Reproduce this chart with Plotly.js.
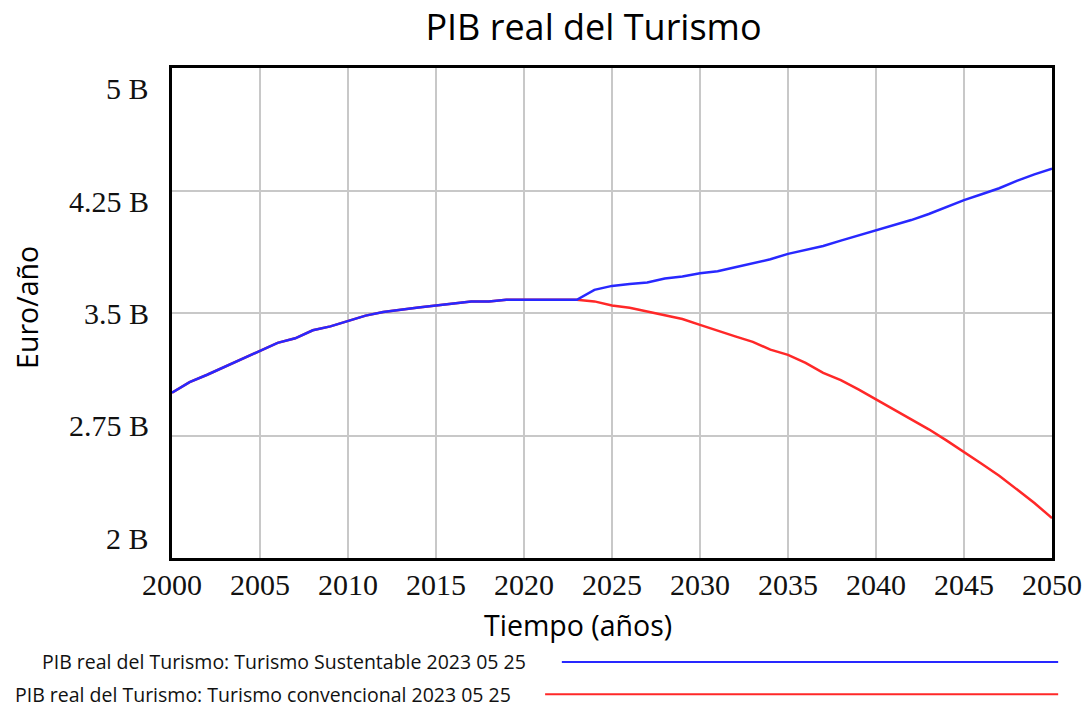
<!DOCTYPE html>
<html>
<head>
<meta charset="utf-8">
<script src="https://cdn.plot.ly/plotly-3.0.1.min.js"></script>
<style>
  html, body { margin: 0; padding: 0; background: #fff; }
  #chart { width: 1086px; height: 710px; }
</style>
</head>
<body>
<div id="chart"></div>
<script>
// years 2000..2050
var years = [];
for (let y = 2000; y <= 2050; y++) { years.push(y); }

// PIB real del Turismo, billions of euro per year
var sustentable = [
  3.012, 3.077, 3.122, 3.171, 3.219, 3.266, 3.317, 3.345, 3.394, 3.418,
  3.453, 3.484, 3.506, 3.522, 3.534, 3.546, 3.559, 3.571, 3.571, 3.581,
  3.581, 3.581, 3.581, 3.581, 3.642, 3.666, 3.677, 3.687, 3.711, 3.723,
  3.744, 3.756, 3.780, 3.805, 3.829, 3.862, 3.886, 3.910, 3.943, 3.975,
  4.004, 4.037, 4.069, 4.106, 4.150, 4.191, 4.227, 4.264, 4.309, 4.349,
  4.384
];
var convencional = [
  3.012, 3.077, 3.122, 3.171, 3.219, 3.266, 3.317, 3.345, 3.394, 3.418,
  3.453, 3.484, 3.506, 3.522, 3.534, 3.546, 3.559, 3.571, 3.571, 3.581,
  3.581, 3.581, 3.581, 3.581, 3.571, 3.546, 3.532, 3.508, 3.488, 3.463,
  3.427, 3.390, 3.357, 3.323, 3.276, 3.244, 3.195, 3.134, 3.089, 3.032,
  2.971, 2.910, 2.849, 2.788, 2.720, 2.646, 2.577, 2.504, 2.423, 2.337,
  2.244
];

var yTickVals = [2, 2.75, 3.5, 4.25, 5];
var yTickText = ["2 B", "2.75 B", "3.5 B", "4.25 B", "5 B"];
var xTickVals = [2000, 2005, 2010, 2015, 2020, 2025, 2030, 2035, 2040, 2045, 2050];

var seriesNames = [
  "PIB real del Turismo: Turismo Sustentable 2023 05 25",
  "PIB real del Turismo: Turismo convencional 2023 05 25"
];
var seriesColors = ["rgb(40, 40, 255)", "rgb(255, 40, 40)"];

var serif = "Liberation Serif, Times New Roman, serif";
var sans = "Open Sans, Liberation Sans, Arial, sans-serif";

var traces = [];
traces.push(getLineTrace(seriesNames[1], years, convencional.map(v => v * 1e9), seriesColors[1]));
traces.push(getLineTrace(seriesNames[0], years, sustentable.map(v => v * 1e9), seriesColors[0]));

// the y labels are spread a little inside the frame, like the original tool does
var annotations = [];
for (let i = 0; i < yTickVals.length; i++) {
  let p = (yTickVals[i] - 2) / 3;
  let paperY = 0.04 + p * 0.918;
  annotations.push({
    xref: "paper", yref: "paper", x: -0.024, y: paperY,
    xanchor: "right", yanchor: "middle", showarrow: false,
    text: yTickText[i], font: { family: serif, size: 30, color: "#111" }
  });
}

// legend lines at the bottom
var legendRows = [
  { y: -0.212, textX: 0.405, lineX0: 0.443 },
  { y: -0.278, textX: 0.387, lineX0: 0.424 }
];
var shapes = [];
for (let i = 0; i < 2; i++) {
  annotations.push({
    xref: "paper", yref: "paper", x: legendRows[i].textX, y: legendRows[i].y,
    xanchor: "right", yanchor: "middle", showarrow: false,
    text: seriesNames[i], font: { family: sans, size: 19.5, color: "#111" }
  });
  shapes.push({
    type: "line", xref: "paper", yref: "paper",
    x0: legendRows[i].lineX0, x1: 1.007, y0: legendRows[i].y, y1: legendRows[i].y,
    line: { color: seriesColors[i], width: 2 }
  });
}

// axis titles
annotations.push({
  xref: "paper", yref: "paper", x: 0.461, y: -0.136,
  xanchor: "center", yanchor: "middle", showarrow: false,
  text: "Tiempo (años)", font: { family: sans, size: 28.5, color: "#000" }
});
annotations.push({
  xref: "paper", yref: "paper", x: -0.165, y: 0.512,
  xanchor: "center", yanchor: "middle", showarrow: false, textangle: -90,
  text: "Euro/año", font: { family: sans, size: 28.5, color: "#000" }
});

var layout = {
  width: 1086,
  height: 710,
  margin: { l: 172, r: 34, t: 68, b: 152 },
  paper_bgcolor: "#fff",
  plot_bgcolor: "#fff",
  showlegend: false,
  title: {
    text: "PIB real del Turismo",
    x: 0.5465, xanchor: "center",
    y: 0.962, yanchor: "middle",
    font: { family: sans, size: 36, color: "#000" }
  },
  xaxis: {
    range: [2000, 2050],
    tickvals: xTickVals,
    ticktext: xTickVals.map(String),
    showgrid: true,
    gridcolor: "#c8c8c8",
    gridwidth: 2,
    showline: true,
    linecolor: "#000",
    linewidth: 3,
    mirror: true,
    zeroline: false,
    ticks: "",
    ticklabelstandoff: -2,
    tickfont: { family: serif, size: 30, color: "#111" }
  },
  yaxis: {
    range: [2e9, 5e9],
    tickvals: yTickVals.map(v => v * 1e9),
    showticklabels: false,
    showgrid: true,
    gridcolor: "#c8c8c8",
    gridwidth: 2,
    showline: true,
    linecolor: "#000",
    linewidth: 3,
    mirror: true,
    zeroline: false,
    ticks: ""
  },
  annotations: annotations,
  shapes: shapes
};

Plotly.newPlot("chart", traces, layout, { displayModeBar: false, staticPlot: true });

function getLineTrace(traceName, xSeries, ySeries, Color) {
  let trace = {
    name: traceName,
    x: xSeries,
    y: ySeries,
    type: "scatter",
    mode: "lines",
    line: {
      color: Color,
      width: 2.5
    },
    hoverinfo: "none"
  };
  return trace;
}
</script>
</body>
</html>
